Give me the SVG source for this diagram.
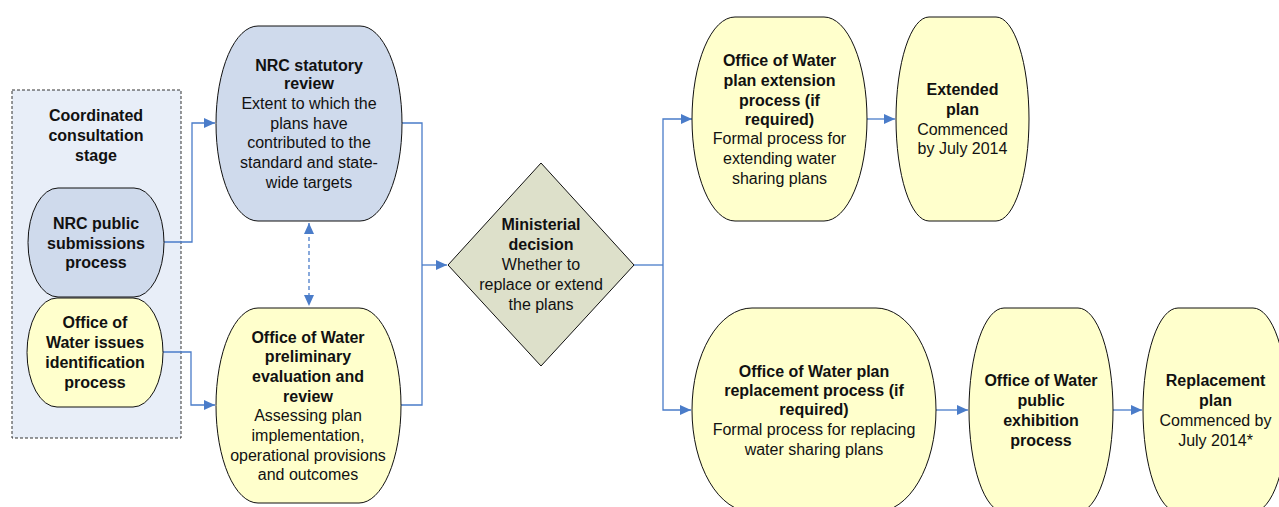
<svg xmlns="http://www.w3.org/2000/svg" width="1279" height="507" viewBox="0 0 1279 507">
<style>
text{font-family:"Liberation Sans",Arial,sans-serif;font-size:16px;fill:#111;text-anchor:middle}
.b{font-weight:bold}
.blue{fill:#cfdaec;stroke:#111;stroke-width:1}
.yel{fill:#ffffcc;stroke:#111;stroke-width:1}
.c{fill:none;stroke:#4a7cc9;stroke-width:1.3}
</style>
<defs>
<marker id="ah" markerUnits="userSpaceOnUse" markerWidth="12" markerHeight="12" refX="11" refY="6" orient="auto-start-reverse" viewBox="0 0 12 12">
<path d="M0,1 L11,6 L0,11 z" fill="#4a7cc9"/>
</marker>
</defs>
<rect width="1279" height="507" fill="#fff"/>
<g id="stage">
<rect x="12" y="90" width="169" height="348" fill="#e8eef8" stroke="#333" stroke-width="1" stroke-dasharray="3,2"/>
<text class="b" x="96" y="121">Coordinated</text>
<text class="b" x="96" y="141">consultation</text>
<text class="b" x="96" y="161">stage</text>
</g>
<g id="connectors">
<polyline class="c" points="164,242 192,242 192,123 215,123" marker-end="url(#ah)"/>
<polyline class="c" points="163,352 191,352 191,405 215,405" marker-end="url(#ah)"/>
<line class="c" x1="309" y1="223" x2="309" y2="306" stroke-dasharray="4,3" marker-start="url(#ah)" marker-end="url(#ah)"/>
<polyline class="c" points="402,123 422,123 422,405 401,405"/>
<polyline class="c" points="422,265 447,265" marker-end="url(#ah)"/>
<polyline class="c" points="634,265 663,265"/>
<polyline class="c" points="692,119 663,119 663,410 691,410" marker-start="url(#ah)" marker-end="url(#ah)"/>
<line class="c" x1="867" y1="119" x2="895" y2="119" marker-end="url(#ah)"/>
<line class="c" x1="936" y1="410" x2="968" y2="410" marker-end="url(#ah)"/>
<line class="c" x1="1113" y1="410" x2="1142" y2="410" marker-end="url(#ah)"/>
</g>
<g id="nrc-public">
<rect class="blue" x="28" y="188" width="136" height="109" rx="30" ry="54.5"/>
<text class="b" x="96" y="229">NRC public</text>
<text class="b" x="96" y="249">submissions</text>
<text class="b" x="96" y="268">process</text>
</g>
<g id="ow-issues">
<rect class="yel" x="27" y="298" width="136" height="109" rx="30" ry="54.5"/>
<text class="b" x="95" y="328">Office of</text>
<text class="b" x="95" y="348">Water issues</text>
<text class="b" x="95" y="368">identification</text>
<text class="b" x="95" y="388">process</text>
</g>
<g id="nrc-review">
<rect class="blue" x="216" y="26" width="186" height="195" rx="42" ry="97.5"/>
<text class="b" x="309" y="71">NRC statutory</text>
<text class="b" x="309" y="89">review</text>
<text x="309" y="109">Extent to which the</text>
<text x="309" y="129">plans have</text>
<text x="309" y="148">contributed to the</text>
<text x="309" y="168">standard and state-</text>
<text x="309" y="188">wide targets</text>
</g>
<g id="ow-prelim">
<rect class="yel" x="216" y="308" width="185" height="195" rx="42" ry="97.5"/>
<text class="b" x="308" y="343">Office of Water</text>
<text class="b" x="308" y="362">preliminary</text>
<text class="b" x="308" y="382">evaluation and</text>
<text class="b" x="308" y="402">review</text>
<text x="308" y="421">Assessing plan</text>
<text x="308" y="441">implementation,</text>
<text x="308" y="461">operational provisions</text>
<text x="308" y="480">and outcomes</text>
</g>
<g id="decision">
<polygon points="448,265 541,163 634,265 541,366" fill="#dde0ca" stroke="#111" stroke-width="1"/>
<text class="b" x="541" y="230">Ministerial</text>
<text class="b" x="541" y="250">decision</text>
<text x="541" y="270">Whether to</text>
<text x="541" y="290">replace or extend</text>
<text x="541" y="310">the plans</text>
</g>
<g id="ow-extension">
<rect class="yel" x="692" y="17" width="175" height="204" rx="43" ry="102"/>
<text class="b" x="779.5" y="66">Office of Water</text>
<text class="b" x="779.5" y="86">plan extension</text>
<text class="b" x="779.5" y="106">process (if</text>
<text class="b" x="779.5" y="125">required)</text>
<text x="779.5" y="144">Formal process for</text>
<text x="779.5" y="164">extending water</text>
<text x="779.5" y="184">sharing plans</text>
</g>
<g id="extended-plan">
<rect class="yel" x="896" y="17" width="133" height="204" rx="33" ry="102"/>
<text class="b" x="962.5" y="95">Extended</text>
<text class="b" x="962.5" y="115">plan</text>
<text x="962.5" y="135">Commenced</text>
<text x="962.5" y="154">by July 2014</text>
</g>
<g id="ow-replacement">
<rect class="yel" x="692" y="308" width="244" height="204" rx="60" ry="102"/>
<text class="b" x="814" y="377">Office of Water plan</text>
<text class="b" x="814" y="396">replacement process (if</text>
<text class="b" x="814" y="415">required)</text>
<text x="814" y="435">Formal process for replacing</text>
<text x="814" y="455">water sharing plans</text>
</g>
<g id="ow-exhibition">
<rect class="yel" x="969" y="308" width="144" height="204" rx="35" ry="102"/>
<text class="b" x="1041" y="386">Office of Water</text>
<text class="b" x="1041" y="406">public</text>
<text class="b" x="1041" y="426">exhibition</text>
<text class="b" x="1041" y="446">process</text>
</g>
<g id="replacement-plan">
<rect class="yel" x="1143" y="308" width="145" height="204" rx="35" ry="102"/>
<text class="b" x="1215.5" y="386">Replacement</text>
<text class="b" x="1215.5" y="406">plan</text>
<text x="1215.5" y="426">Commenced by</text>
<text x="1215.5" y="446">July 2014*</text>
</g>
</svg>
